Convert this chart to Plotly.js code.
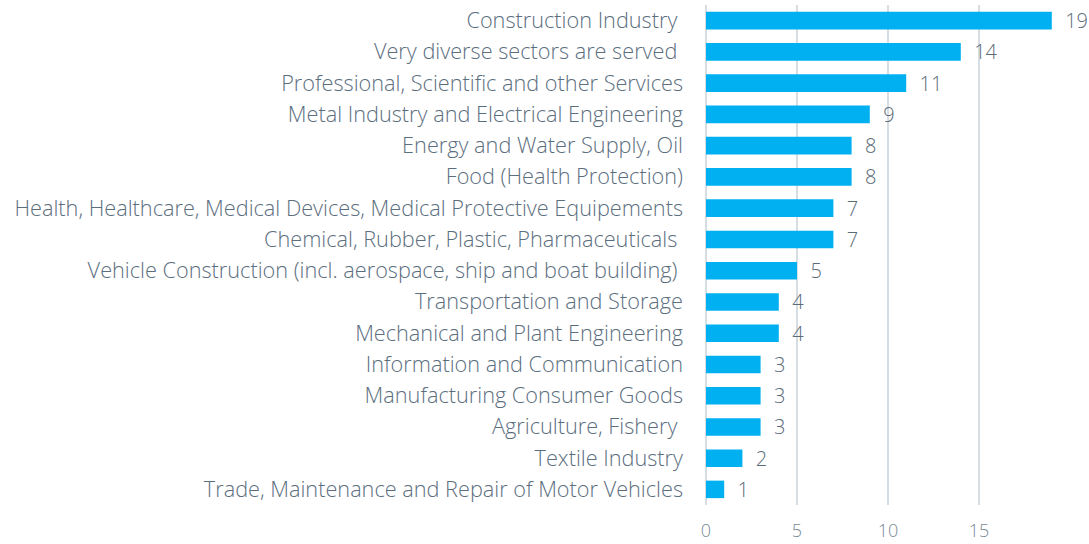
<!DOCTYPE html>
<html><head><meta charset="utf-8">
<script src="https://cdn.plot.ly/plotly-3.0.1.min.js"></script>
<style>html,body{margin:0;padding:0;background:#fff}#chart{width:1089px;height:544px}</style>
</head><body><div id="chart"></div>
<script>
const categories = [
  "Trade, Maintenance and Repair of Motor Vehicles",
  "Textile Industry",
  "Agriculture, Fishery\u00a0",
  "Manufacturing Consumer Goods",
  "Information and Communication",
  "Mechanical and Plant Engineering",
  "Transportation and Storage",
  "Vehicle Construction (incl. aerospace, ship and boat building)\u00a0",
  "Chemical, Rubber, Plastic, Pharmaceuticals\u00a0",
  "Health, Healthcare, Medical Devices, Medical Protective Equipements",
  "Food (Health Protection)",
  "Energy and Water Supply, Oil",
  "Metal Industry and Electrical Engineering",
  "Professional, Scientific and other Services",
  "Very diverse sectors are served\u00a0",
  "Construction Industry\u00a0"
];
const counts = [1, 2, 3, 3, 3, 4, 4, 5, 7, 7, 8, 8, 9, 11, 14, 19];
const xTicks = [0, 5, 10, 15];

const fontFamily = "'Open Sans', sans-serif";
Plotly.newPlot('chart', [{
  type: 'bar',
  orientation: 'h',
  y: categories,
  x: counts,
  width: 0.56,
  marker: {color: '#00b0f0'},
  text: counts,
  texttemplate: '\u00a0\u00a0%{x}',
  textposition: 'outside',
  constraintext: 'none',
  cliponaxis: false,
  textfont: {family: fontFamily, size: 20, color: '#5b6b77', weight: 300},
  hoverinfo: 'none'
}], {
  width: 1089, height: 544,
  margin: {l: 706, r: 19, t: 5, b: 39},
  paper_bgcolor: '#ffffff', plot_bgcolor: '#ffffff',
  showlegend: false,
  bargap: 0.44,
  xaxis: {
    range: [0, 20],
    tickvals: xTicks,
    ticktext: xTicks.map(String),
    showgrid: true, gridcolor: '#d6dee4', gridwidth: 2,
    zeroline: true, zerolinecolor: '#d6dee4', zerolinewidth: 2,
    showline: false, ticks: '',
    ticklabelstandoff: 13,
    tickfont: {family: fontFamily, size: 18, color: '#7a8a96', weight: 300},
    fixedrange: true
  },
  yaxis: {
    type: 'category',
    range: [-0.5, 15.5],
    showgrid: false, showline: false, ticks: '',
    ticklabelstandoff: 22,
    tickfont: {family: fontFamily, size: 21.7, color: '#5b6e7e', weight: 300},
    automargin: false,
    fixedrange: true
  }
}, {displayModeBar: false, staticPlot: true});
</script>
</body></html>
